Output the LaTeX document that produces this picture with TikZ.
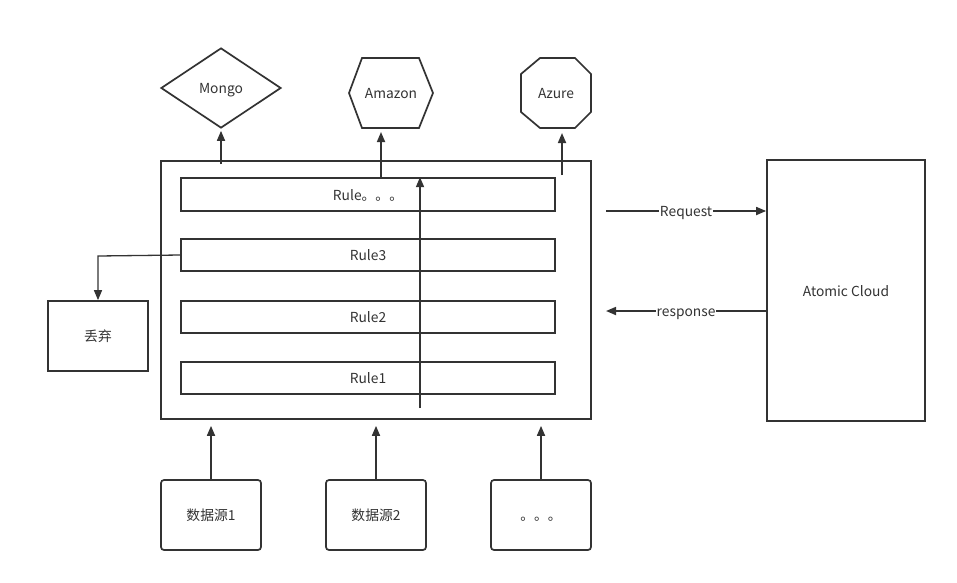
\documentclass[tikz,border=0pt]{standalone}
\usepackage{fontspec}
\setmainfont{Noto Sans CJK SC}
\usetikzlibrary{arrows.meta,shapes.geometric}
\definecolor{ink}{HTML}{333333}
\begin{document}
\begin{tikzpicture}[x=1pt,y=-1pt,
  every node/.style={text=ink, font=\fontsize{13.8}{16}\selectfont, text height=12.5pt, text depth=1pt},
  box/.style={draw=ink, line width=1.7pt, rectangle, inner sep=0pt},
  rbox/.style={box, rounded corners=3pt, minimum width=100, minimum height=70},
  shp/.style={draw=ink, line width=1.7pt},
  arr/.style={draw=ink, line width=1.7pt, -{Triangle[length=10pt,width=8pt]}},
  thin/.style={draw=ink, line width=1.3pt, -{Triangle[length=10pt,width=8pt]}},
  lbl/.style={fill=white, inner sep=1pt}
]
\useasboundingbox (0,0) rectangle (957,582);
\fill[white] (0,0) rectangle (957,582);

% main container
\node[box, minimum width=430, minimum height=258] (main) at (376,290) {};
\node[box, minimum width=374, minimum height=33] (rdots) at (368,194.5) {Rule。。。};
\node[box, minimum width=374, minimum height=32] (r3) at (368,255) {Rule3};
\node[box, minimum width=374, minimum height=32] (r2) at (368,317) {Rule2};
\node[box, minimum width=374, minimum height=32] (r1) at (368,378) {Rule1};

% targets
\node[shp, diamond, minimum width=120, minimum height=80, inner sep=0pt] (mongo) at (221,88) {Mongo};
\draw[shp] (349,93) -- (362,58) -- (419,58) -- (433,93) -- (419,128) -- (362,128) -- cycle;
\node (amazon) at (391,93) {Amazon};
\draw[shp] (540,58) -- (575,58) -- (591,74) -- (591,112) -- (575,128) -- (540,128) -- (521,112) -- (521,74) -- cycle;
\node (azure) at (556,93) {Azure};
\coordinate (amazonB) at (381,128);
\coordinate (azureB) at (562,128);

% discard and cloud
\node[box, minimum width=100, minimum height=70] (discard) at (98,336) {丢弃};
\node[box, minimum width=158, minimum height=261] (cloud) at (846,290.5) {Atomic Cloud};

% sources
\node[rbox] (ds1) at (211,515) {数据源1};
\node[rbox] (ds2) at (376,515) {数据源2};
\node[rbox] (ds3) at (541,515) {。。。};

% outgoing arrows
\coordinate (mongoS) at (221,164);
\coordinate (azureS) at (562,175);
\draw[arr, shorten >=2pt] (mongoS) -- (mongo.south);
\draw[arr, shorten >=4pt] (rdots.north -| amazonB) -- (amazonB);
\draw[arr, shorten >=5pt] (azureS) -- (azureB);

% rule flow
\coordinate (flowS) at (420,408);
\draw[arr] (flowS) -- (flowS |- rdots.north);

% discard
\draw[thin] (r3.west) -- (98,256) -- (discard.north);

% request / response
\coordinate (reqS) at (606,211);
\coordinate (resE) at (606,311);
\draw[arr] (reqS) -- (reqS -| cloud.west) node[midway, lbl] {Request};
\draw[arr] (resE -| cloud.west) -- (resE) node[midway, lbl] {response};

% sources into container
\draw[arr, shorten >=6pt] (ds1.north) -- (ds1.north |- main.south);
\draw[arr, shorten >=6pt] (ds2.north) -- (ds2.north |- main.south);
\draw[arr, shorten >=6pt] (ds3.north) -- (ds3.north |- main.south);
\end{tikzpicture}
\end{document}
